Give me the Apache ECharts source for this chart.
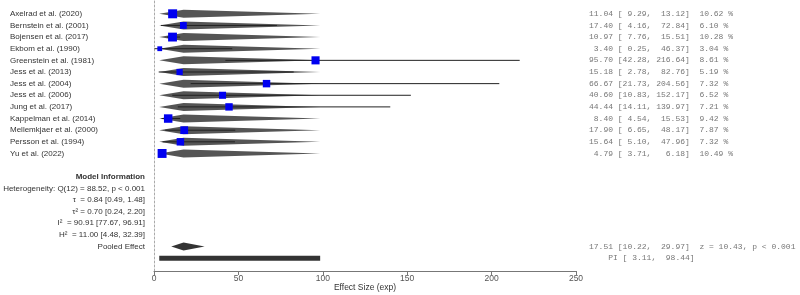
<!DOCTYPE html>
<html><head><meta charset="utf-8">
<script src="https://cdn.jsdelivr.net/npm/echarts@6/dist/echarts.min.js"></script>
<style>html,body{margin:0;padding:0;background:#fff}#c{width:800px;height:295px}</style>
</head><body><div id="c"></div>
<script>
const studies = ['Axelrad et al. (2020)','Bernstein et al. (2001)','Bojensen et al. (2017)','Ekbom et al. (1990)','Greenstein et al. (1981)','Jess et al. (2013)','Jess et al. (2004)','Jess et al. (2006)','Jung et al. (2017)','Kappelman et al. (2014)','Mellemkjaer et al. (2000)','Persson et al. (1994)','Yu et al. (2022)'];
const estimates = [11.04,17.40,10.97,3.40,95.70,15.18,66.67,40.60,44.44,8.40,17.90,15.64,4.79];
const ciLower = [9.29,4.16,7.76,0.25,42.28,2.78,21.73,10.83,14.11,4.54,6.65,5.10,3.71];
const ciUpper = [13.12,72.84,15.51,46.37,216.64,82.76,204.56,152.17,139.97,15.53,48.17,47.96,6.18];
const weights = [10.62,6.10,10.28,3.04,8.61,5.19,7.32,6.52,7.21,9.42,7.87,7.32,10.49];
const pooledEstimate = 17.51;
const pooledLower = 10.22;
const pooledUpper = 29.97;
const pooledTest = 'z = 10.43, p < 0.001';
const predLower = 3.11;
const predUpper = 98.44;
const modelInfoLines = ['Model Information','Heterogeneity: Q(12) = 88.52, p < 0.001','\u03c4  = 0.84 [0.49, 1.48]','\u03c4\u00b2 = 0.70 [0.24, 2.20]','I\u00b2  = 90.91 [77.67, 96.91]','H\u00b2  = 11.00 [4.48, 32.39]','Pooled Effect'];
const xTickMin = 0, xTickMax = 250, xTickStep = 50;
const axisTitle = 'Effect Size (exp)';

const modelStartRow = studies.length + 1;
const pooledRow = modelStartRow + modelInfoLines.length - 1;
const piRow = pooledRow + 1;

const f2 = v => v.toFixed(2);
const pad = (s, n) => (' '.repeat(Math.max(0, n - s.length))) + s;
const rightTexts = studies.map((s, i) =>
  pad(f2(estimates[i]), 5) + ' [' + pad(f2(ciLower[i]), 5) + ', ' + pad(f2(ciUpper[i]), 6) + ']  ' + f2(weights[i]) + ' %');
const pooledText = pad(f2(pooledEstimate), 5) + ' [' + pad(f2(pooledLower), 5) + ', ' + pad(f2(pooledUpper), 6) + ']  ' + pooledTest;
const piText = '    PI [' + pad(f2(predLower), 5) + ', ' + pad(f2(predUpper), 6) + ']';

const SANS = '"Liberation Sans", Arial, sans-serif';
const MONO = '"Liberation Mono", "DejaVu Sans Mono", monospace';
const chart = echarts.init(document.getElementById('c'), null, {renderer: 'canvas'});

const rows = studies.map((s, i) => i);

chart.setOption({
  animation: false,
  grid: {left: 154, right: 224, top: 1, bottom: 24, containLabel: false, outerBoundsMode: 'none'},
  xAxis: {
    type: 'value', min: xTickMin, max: xTickMax, interval: xTickStep, position: 'bottom',
    name: axisTitle, nameLocation: 'middle', nameGap: 17, nameMoveOverlap: false,
    nameTextStyle: {fontFamily: SANS, fontSize: 8.5, color: '#333', verticalAlign: 'middle'},
    axisLine: {show: true, onZero: false, lineStyle: {color: '#777', width: 1}},
    axisTick: {show: true, length: 4, lineStyle: {color: '#777'}},
    axisLabel: {fontFamily: SANS, fontSize: 8.5, color: '#555', margin: 3},
    splitLine: {show: false}
  },
  yAxis: {
    type: 'value', inverse: true, min: -1.1, max: piRow + 1.1,
    axisLine: {show: true, onZero: false, lineStyle: {color: '#aaa', width: 1, type: [2, 2]}},
    axisTick: {show: false}, axisLabel: {show: false}, splitLine: {show: false}
  },
  series: [
    {
      type: 'custom', clip: false, z: 1,
      data: rows.map(i => [predLower, pooledEstimate, predUpper, i]),
      renderItem: (p, api) => {
        const a = api.coord([api.value(0), api.value(3)]);
        const b = api.coord([api.value(1), api.value(3)]);
        const c = api.coord([api.value(2), api.value(3)]);
        const h = 4;
        return {type: 'polygon', shape: {points: [[a[0], a[1]], [b[0], b[1] - h], [c[0], c[1]], [b[0], b[1] + h]]},
          style: {fill: '#555'}};
      }
    },
    {
      type: 'custom', clip: false, z: 2,
      data: rows.map(i => [ciLower[i], ciUpper[i], i]),
      renderItem: (p, api) => {
        const a = api.coord([api.value(0), api.value(2)]);
        const b = api.coord([api.value(1), api.value(2)]);
        return {type: 'line', shape: {x1: a[0], y1: a[1], x2: b[0], y2: b[1]},
          style: {stroke: '#222', lineWidth: 1}};
      }
    },
    {
      type: 'scatter', z: 3, symbol: 'rect',
      data: rows.map(i => [estimates[i], i, weights[i]]),
      symbolSize: v => 2.76 * Math.sqrt(v[2]),
      itemStyle: {color: '#0000f0', opacity: 1}
    },
    {
      type: 'custom', clip: false, z: 3,
      data: [[pooledLower, pooledEstimate, pooledUpper, pooledRow]],
      renderItem: (p, api) => {
        const a = api.coord([api.value(0), api.value(3)]);
        const b = api.coord([api.value(1), api.value(3)]);
        const c = api.coord([api.value(2), api.value(3)]);
        const h = 4;
        return {type: 'polygon', shape: {points: [[a[0], a[1]], [b[0], b[1] - h], [c[0], c[1]], [b[0], b[1] + h]]},
          style: {fill: '#333'}};
      }
    },
    {
      type: 'custom', clip: false, z: 3,
      data: [[predLower, predUpper, piRow]],
      renderItem: (p, api) => {
        const a = api.coord([api.value(0), api.value(2)]);
        const b = api.coord([api.value(1), api.value(2)]);
        return {type: 'rect', shape: {x: a[0], y: a[1] - 2.5, width: b[0] - a[0], height: 5},
          style: {fill: '#333'}};
      }
    },
    {
      type: 'custom', clip: false, z: 5,
      data: rows.map(i => [0, i]),
      renderItem: (p, api) => {
        const c = api.coord([0, api.value(1)]);
        return {type: 'text', style: {text: studies[p.dataIndex], x: 10, y: c[1], verticalAlign: 'middle', align: 'left',
          font: '8px ' + SANS, fill: '#333'}};
      }
    },
    {
      type: 'custom', clip: false, z: 5,
      data: modelInfoLines.map((s, k) => [0, modelStartRow + k]),
      renderItem: (p, api) => {
        const c = api.coord([0, api.value(1)]);
        return {type: 'text', style: {text: modelInfoLines[p.dataIndex], x: 145, y: c[1], verticalAlign: 'middle', align: 'right',
          font: (p.dataIndex === 0 ? 'bold ' : '') + '8px ' + SANS, fill: '#333'}};
      }
    },
    {
      type: 'custom', clip: false, z: 5,
      data: rows.map(i => [0, i]).concat([[0, pooledRow], [0, piRow]]),
      renderItem: (p, api) => {
        const c = api.coord([0, api.value(1)]);
        const all = rightTexts.concat([pooledText, piText]);
        return {type: 'text', style: {text: all[p.dataIndex], x: 589, y: c[1], verticalAlign: 'middle', align: 'left',
          font: '8px ' + MONO, fill: '#777'}};
      }
    }
  ]
});
</script></body></html>
